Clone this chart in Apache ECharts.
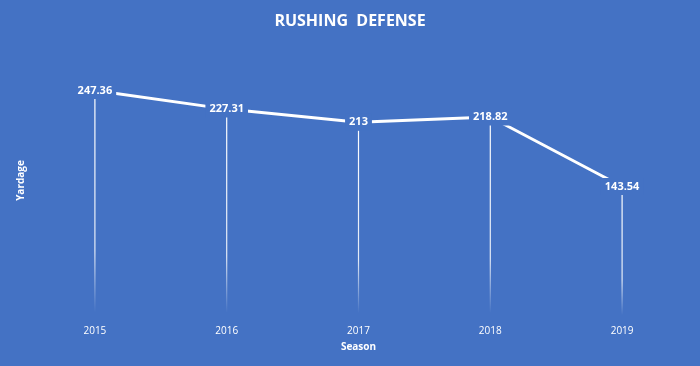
<!DOCTYPE html>
<html><head><meta charset="utf-8">
<script src="https://cdn.jsdelivr.net/npm/echarts@6/dist/echarts.min.js"></script>
<style>html,body{margin:0;padding:0;background:#4472C4}#c{width:700px;height:366px}</style>
</head><body><div id="c"></div>
<script>
const seasons = ['2015','2016','2017','2018','2019'];
const yardage = [247.36, 227.31, 213, 218.82, 143.54];
const titleText = 'RUSHING  DEFENSE';
const xName = 'Season';
const yName = 'Yardage';

const chart = echarts.init(document.getElementById('c'));
const font = '"Open Sans", "Liberation Sans", sans-serif';
chart.setOption({
  backgroundColor: '#4472C4',
  animation: false,
  title: {text: titleText, left: 'center', top: 8,
    textStyle: {color: '#fff', fontSize: 16, fontWeight: 'bold', fontFamily: font}},
  grid: {left: 29, right: 12, top: 42, bottom: 47},
  xAxis: {type: 'category', data: seasons,
    axisLine: {show: false}, axisTick: {show: false}, splitLine: {show: false},
    axisLabel: {color: '#fff', fontSize: 10, fontFamily: font, margin: 7},
    name: xName, nameLocation: 'middle', nameGap: 23,
    nameTextStyle: {color: '#fff', fontSize: 10, fontWeight: 'bold', fontFamily: font}},
  yAxis: {type: 'value', min: 0, max: 300,
    axisLine: {show: false}, axisTick: {show: false}, splitLine: {show: false},
    axisLabel: {show: false},
    name: yName, nameLocation: 'middle', nameGap: 3, nameRotate: 90,
    nameTextStyle: {color: '#fff', fontSize: 10, fontWeight: 'bold', fontFamily: font}},
  series: [
    {type: 'bar', data: yardage, barWidth: 1.2, silent: true, z: 1,
      itemStyle: {color: {type: 'linear', x: 0, y: 0, x2: 0, y2: 1,
        colorStops: [{offset: 0, color: 'rgba(255,255,255,1)'},
                     {offset: 0.7, color: 'rgba(255,255,255,0.85)'},
                     {offset: 0.97, color: 'rgba(255,255,255,0)'},
                     {offset: 1, color: 'rgba(255,255,255,0)'}]}}},
    {type: 'line', data: yardage, z: 3, symbol: 'circle', symbolSize: 0.1,
      lineStyle: {color: '#fff', width: 3},
      itemStyle: {color: '#fff'},
      label: {show: true, position: 'inside', color: '#fff', fontSize: 11,
        fontWeight: 'bold', fontFamily: font, backgroundColor: '#4472C4',
        padding: [3, 4]}}
  ]
});
</script></body></html>
